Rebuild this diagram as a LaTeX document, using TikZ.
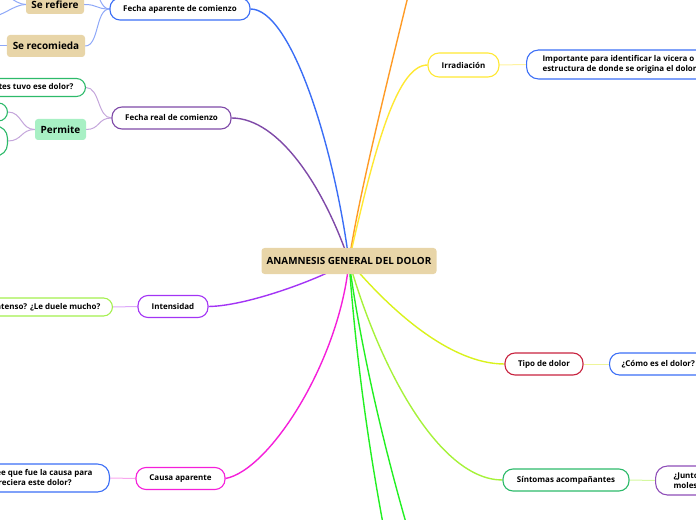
\documentclass[tikz,border=0pt]{standalone}
\usepackage{fontspec}
\setmainfont{Open Sans}
\usetikzlibrary{calc}
\pgfdeclarelayer{bg}
\pgfsetlayers{bg,main}
\definecolor{cBlue}{HTML}{3B6EF6}
\definecolor{cBlueL}{HTML}{8EA8F8}
\definecolor{cPurple}{HTML}{7F4AA8}
\definecolor{cPurpleL}{HTML}{C4A6DB}
\definecolor{cGreen}{HTML}{2DBA6A}
\definecolor{cPermite}{HTML}{A8F0C4}
\definecolor{cViolet}{HTML}{A334F5}
\definecolor{cVioletL}{HTML}{DCA8FA}
\definecolor{cLime}{HTML}{A4F04E}
\definecolor{cMag}{HTML}{F51FDA}
\definecolor{cMagL}{HTML}{F9A6EE}
\definecolor{cYellow}{HTML}{FFE833}
\definecolor{cYellowL}{HTML}{FFF3A0}
\definecolor{cOrange}{HTML}{FF9B26}
\definecolor{cCrimson}{HTML}{C8233F}
\definecolor{cYG}{HTML}{D9F21C}
\definecolor{cYGL}{HTML}{EEF59A}
\definecolor{cLimeLine}{HTML}{A6F23A}
\definecolor{cLimeL}{HTML}{D4F8A0}
\definecolor{cBright}{HTML}{22F022}
\definecolor{cPurple2}{HTML}{8E4DB8}
\definecolor{cTan}{HTML}{E8D5A8}
\begin{document}
\begin{tikzpicture}[x=1bp,y=-1bp,
  pill/.style={draw, line width=1.1bp, rounded corners=10bp, fill=white,
    font=\fontsize{8}{10}\selectfont\bfseries, inner xsep=8bp, inner ysep=0bp,
    minimum height=22bp},
  tanbox/.style={fill=cTan, rounded corners=3bp, inner sep=0bp,
    font=\fontsize{10}{12}\selectfont\bfseries},
  main/.style={line width=1.4bp},
  sub/.style={line width=1bp}]
\useasboundingbox (0,0) rectangle (696,520);
\clip (0,0) rectangle (696,520);

% central
\node[tanbox, minimum width=175bp, minimum height=26bp,
  font=\fontsize{9.9}{11}\selectfont\bfseries] (c) at (349,261) {ANAMNESIS GENERAL DEL DOLOR};

% left side
\node[pill, draw=cBlue, minimum width=140bp] (fa) at (180,9) {Fecha aparente de comienzo};
\node[tanbox, minimum width=58bp, minimum height=19bp] (sref) at (55,4.5) {Se refiere};
\node[tanbox, minimum width=78bp, minimum height=22bp] (srec) at (46,46) {Se recomieda};

\node[pill, draw=cPurple, minimum width=119bp] (fr) at (171.5,118) {Fecha real de comienzo};
\node[pill, draw=cGreen, minimum height=18bp, rounded corners=9bp, anchor=east, inner xsep=12bp] (antes) at (86,87.5) {¿Cuántas veces antes tuvo ese dolor?};
\node[tanbox, fill=cPermite, minimum width=51bp, minimum height=21bp] (perm) at (60.5,129.5) {Permite};
\node[pill, draw=cGreen, minimum height=18bp, rounded corners=9bp, minimum width=100bp, anchor=east] (p1) at (8,112) {};
\node[pill, draw=cGreen, minimum height=30bp, rounded corners=12bp, minimum width=100bp, anchor=east] (p2) at (8,141) {};

\node[pill, draw=cViolet, minimum width=70bp] (int) at (173,306.5) {Intensidad};
\node[pill, draw=cLime, minimum height=18bp, rounded corners=9bp, anchor=east, inner xsep=12bp] (intc) at (113,307) {¿Es intenso? ¿Le duele mucho?};

\node[pill, draw=cMag, minimum width=89bp] (ca) at (180.5,478.5) {Causa aparente};
\node[pill, draw=cBlue, minimum height=28bp, rounded corners=12bp, anchor=east, align=left, inner xsep=17bp] (cac) at (110,478) {¿Qué cree que fue la causa para\\que apareciera este dolor?};

% right side
\node[pill, draw=cYellow, minimum width=71bp, minimum height=24bp, rounded corners=11bp] (irr) at (463.5,65) {Irradiación};
\node[pill, draw=cBlue, minimum height=29bp, rounded corners=12bp, anchor=west, align=left, inner xsep=16bp] (irrc) at (526,64.5) {Importante para identificar la vicera o\\estructura de donde se origina el dolor};

\node[pill, draw=cCrimson, minimum width=78bp] (tipo) at (544,364) {Tipo de dolor};
\node[pill, draw=cBlue, anchor=west, inner xsep=12bp] (tipoc) at (609,364) {¿Cómo es el dolor?};

\node[pill, draw=cGreen, minimum width=126bp] (sin) at (566,480) {Síntomas acompañantes};
\node[pill, draw=cPurple2, minimum height=29bp, rounded corners=12bp, anchor=west, align=left, inner xsep=18bp] (sinc) at (655,480.5) {¿Junto con el dolor tiene otras\\molestias?};

% off-page ends
\coordinate (offOrange) at (412,-20);
\coordinate (offG1) at (390,560);
\coordinate (offG2) at (420,570);
\coordinate (offFa) at (95,-12);
\coordinate (offR1) at (-10,17);
\coordinate (offR2) at (-10,-12);
\coordinate (offRec) at (-10,46);

\begin{pgfonlayer}{bg}
% main branches
\draw[main, cBlue] (c.center) .. controls (333,140) and (290,9) .. (fa.east);
\draw[main, cPurple] (c.center) .. controls (325,190) and (280,118) .. (fr.east);
\draw[main, cOrange] (c.center) .. controls (358,200) and (385,90) .. (offOrange);
\draw[main, cYellow] (c.center) .. controls (372,160) and (395,65) .. (irr.west);
\draw[main, cViolet] (c.center) .. controls (330,275) and (250,306) .. (int.east);
\draw[main, cMag] (c.center) .. controls (340,360) and (270,470) .. (ca.east);
\draw[main, cYG] (c.center) .. controls (390,310) and (450,364) .. (tipo.west);
\draw[main, cLimeLine] (c.center) .. controls (380,370) and (440,480) .. (sin.west);
\draw[main, cBright] (c.center) .. controls (356,360) and (370,460) .. (offG1);
\draw[main, cBright] (c.center) .. controls (358,330) and (380,440) .. (offG2);
% sub branches
\draw[sub, cBlueL] (fa.west) .. controls +(-14,0) and +(14,0) .. (sref.east);
\draw[sub, cBlueL] (fa.west) .. controls +(-14,0) and +(14,0) .. (srec.east);
\draw[sub, cBlueL] (fa.west) .. controls +(-8,0) and +(4,8) .. (offFa);
\draw[sub, cBlueL] (sref.west) .. controls +(-12,0) and +(12,0) .. (offR1);
\draw[sub, cBlueL] (sref.west) .. controls +(-12,0) and +(12,0) .. (offR2);
\draw[sub, cBlueL] (srec.west) -- (offRec);
\draw[sub, cPurpleL] (fr.west) .. controls +(-14,0) and +(14,0) .. (antes.east);
\draw[sub, cPurpleL] (fr.west) .. controls +(-14,0) and +(14,0) .. (perm.east);
\draw[sub, cPurpleL] (perm.west) .. controls +(-14,0) and +(14,0) .. (p1.east);
\draw[sub, cPurpleL] (perm.west) .. controls +(-14,0) and +(14,0) .. (p2.east);
\draw[sub, cVioletL] (int.west) -- (intc.east);
\draw[sub, cMagL] (ca.west) -- (cac.east);
\draw[sub, cYellowL] (irr.east) -- (irrc.west);
\draw[sub, cYGL] (tipo.east) -- (tipoc.west);
\draw[sub, cLimeL] (sin.east) -- (sinc.west);
\end{pgfonlayer}
\end{tikzpicture}
\end{document}
